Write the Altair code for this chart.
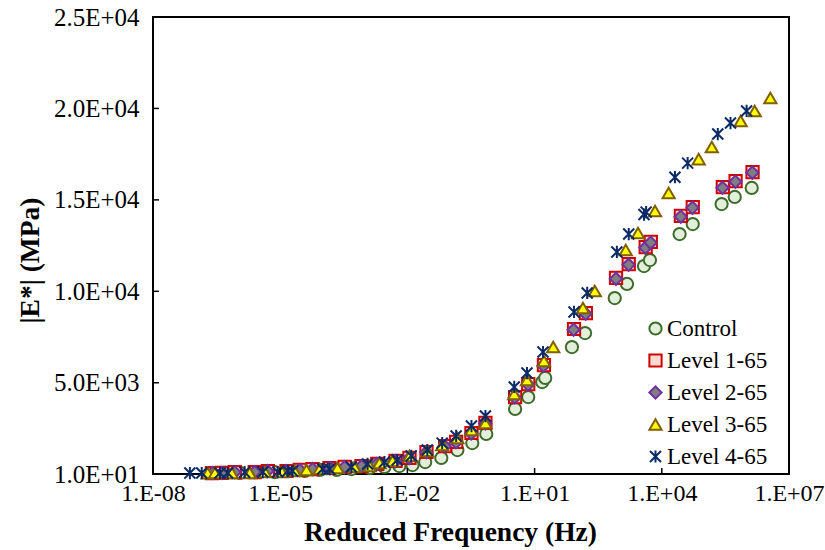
import math
import altair as alt
import pandas as pd

series_names = ["Control", "Level 1-65", "Level 2-65", "Level 3-65", "Level 4-65"]

control_freq = [4.9e-7, 1.12e-6, 2.95e-6, 7.41e-6, 1.66e-5, 3.8e-5, 8.51e-5, 2.14e-4, 4.79e-4, 1.29e-3,
                2.88e-3, 6.46e-3, 1.32e-2, 2.63e-2, 6.31e-2, 0.151, 0.339, 0.724, 3.47, 7.08,
                15.1, 17.8, 75.9, 155, 776, 1510, 3800, 5250, 2.63e4, 5.37e4,
                2.57e5, 5.25e5, 1.32e6]
control_mod = [65, 65, 119, 119, 174, 174, 229, 229, 283, 338,
               393, 447, 500, 666, 885, 1320, 1705, 2200, 3565, 4220,
               5040, 5260, 6950, 7720, 9630, 10400, 11380, 11710, 13130, 13680,
               14770, 15160, 15650]

level1_freq = [2.45e-7, 4.17e-7, 8.51e-7, 2.51e-6, 5.13e-6, 1.41e-5, 2.88e-5, 5.75e-5, 1.45e-4, 3.31e-4,
               8.32e-4, 1.95e-3, 5.25e-3, 1.12e-2, 2.82e-2, 7.76e-2, 0.141, 0.324, 0.692, 3.47,
               7.08, 16.6, 85.1, 162, 832, 1660, 4170, 5500, 2.82e4, 5.37e4,
               2.75e5, 5.5e5, 1.38e6]
level1_mod = [62, 65, 110, 119, 174, 174, 229, 283, 338, 393,
              447, 557, 721, 885, 1213, 1541, 1760, 2252, 2799, 4220,
              4931, 5970, 7939, 8813, 10730, 11490, 12420, 12700, 14120, 14610,
              15700, 16030, 16520]

level2_freq = [2.5e-7, 4.2e-7, 8.4e-7, 2.5e-6, 5.0e-6, 1.4e-5, 2.9e-5, 5.8e-5, 1.5e-4, 3.3e-4,
               8.3e-4, 1.9e-3, 5.2e-3, 1.1e-2, 2.8e-2, 7.6e-2, 0.14, 0.32, 0.69, 3.4,
               7.0, 16.2, 83, 160, 830, 1650, 4100, 5450, 2.8e4, 5.3e4,
               2.7e5, 5.45e5, 1.37e6]
level2_mod = [60, 64, 105, 115, 170, 172, 225, 278, 332, 388,
              440, 550, 712, 875, 1200, 1525, 1745, 2230, 2775, 4190,
              4900, 5930, 7900, 8770, 10680, 11450, 12380, 12660, 14080, 14570,
              15660, 15990, 16490]

level3_freq = [1.95e-7, 2.88e-7, 7.24e-7, 1.91e-6, 4.37e-6, 1.10e-5, 2.19e-5, 4.17e-5, 8.51e-5, 2.24e-4,
               5.62e-4, 1.29e-3, 2.19e-3, 4.47e-3, 1.12e-2, 2.95e-2, 6.61e-2, 0.151, 0.324, 0.692,
               3.31, 6.61, 16.6, 27.5, 138, 263, 1410, 2750, 6920, 1.45e4,
               7.41e4, 1.51e5, 7.24e5, 1.55e6, 3.63e6]
level3_mod = [60, 62, 65, 65, 119, 119, 174, 229, 283, 338,
              393, 447, 611, 721, 994, 1268, 1596, 1978, 2416, 2799,
              4384, 5150, 6189, 6954, 9087, 10016, 12260, 13190, 14390, 15375,
              17230, 17890, 19310, 19860, 20570]

level4_freq = [7.41e-8, 1.41e-7, 3.80e-7, 5.75e-7, 1.45e-6, 3.89e-6, 8.71e-6, 1.51e-5, 1.95e-5, 1.0e-4,
               1.45e-4, 4.79e-4, 1.15e-3, 2.88e-3, 5.75e-3, 1.23e-2, 2.95e-2, 6.61e-2, 0.141, 0.324,
               0.692, 3.31, 6.61, 15.8, 85.1, 174, 871, 1660, 3800, 4270,
               2.04e4, 4.07e4, 2.09e5, 4.17e5, 1.0e6]
level4_mod = [60, 62, 65, 65, 110, 119, 119, 174, 174, 283,
              283, 393, 557, 666, 775, 1000, 1320, 1700, 2090, 2630,
              3180, 4770, 5530, 6680, 8870, 9910, 12150, 13130, 14200, 14330,
              16240, 17010, 18600, 19200, 19860]

x_tick_values = [1e-8, 1e-5, 1e-2, 1e1, 1e4, 1e7]
x_tick_labels = ["1.E-08", "1.E-05", "1.E-02", "1.E+01", "1.E+04", "1.E+07"]
y_tick_values = [10, 5000, 10000, 15000, 20000, 25000]
y_tick_labels = ["1.0E+01", "5.0E+03", "1.0E+04", "1.5E+04", "2.0E+04", "2.5E+04"]

shapes = ["circle", "square", "diamond", "triangle-up",
          "M-0.9,-0.9L0.9,0.9M-0.9,0.9L0.9,-0.9M0,-1L0,1"]
fills = ["#E2EFDA", "#FADBD2", "#7F7F7F", "#FFFF00", "transparent"]
strokes = ["#3E6B2C", "#D00000", "#7030A0", "#806000", "#0B2A66"]
sizes = [150, 150, 85, 150, 190]

rows = []
all_f = [control_freq, level1_freq, level2_freq, level3_freq, level4_freq]
all_e = [control_mod, level1_mod, level2_mod, level3_mod, level4_mod]
k = 0
for name, fs, es in zip(series_names, all_f, all_e):
    for f, e in zip(fs, es):
        rows.append({"series": name, "freq": f, "modulus": e, "ord": k})
        k += 1
df = pd.DataFrame(rows)

W, H = 636, 457
SERIF = "Times New Roman, Liberation Serif, DejaVu Serif, serif"

x_expr = " : ".join(
    f"round(log(datum.value)/LN10) == {round(math.log10(v))} ? '{lab}'"
    for v, lab in zip(x_tick_values, x_tick_labels)) + " : ''"
y_expr = " : ".join(
    f"abs(datum.value - {v}) < 1 ? '{lab}'"
    for v, lab in zip(y_tick_values, y_tick_labels)) + " : ''"

xscale = alt.Scale(type="log", domain=[1e-8, 1e7], nice=False)
yscale = alt.Scale(domain=[10, 25000], nice=False, zero=False)
x_axis = alt.Axis(values=x_tick_values, labelExpr=x_expr, title="Reduced Frequency (Hz)",
                  titleX=297, titleY=58, titleBaseline="middle", titleAnchor="middle",
                  labelFont=SERIF, titleFont=SERIF, labelFontSize=24)
y_axis = alt.Axis(values=y_tick_values, labelExpr=y_expr, title="|E*| (MPa)",
                  titleX=-123, titleY=243, titleBaseline="middle", titleAnchor="middle",
                  labelFont=SERIF, titleFont=SERIF, labelFontSize=25)

leg = alt.Legend(title=None, orient="none", legendX=491, legendY=300, labelFont=SERIF)

points = alt.Chart(df).mark_point(filled=True, opacity=1, strokeWidth=2).encode(
    x=alt.X("freq:Q", scale=xscale, axis=x_axis),
    y=alt.Y("modulus:Q", scale=yscale, axis=y_axis),
    shape=alt.Shape("series:N", scale=alt.Scale(domain=series_names, range=shapes), legend=leg),
    fill=alt.Fill("series:N", scale=alt.Scale(domain=series_names, range=fills), legend=leg),
    stroke=alt.Stroke("series:N", scale=alt.Scale(domain=series_names, range=strokes), legend=leg),
    size=alt.Size("series:N", scale=alt.Scale(domain=series_names, range=sizes), legend=leg),
    order=alt.Order("ord:Q"),
)

ytick_df = pd.DataFrame({"v": y_tick_values})
xtick_df = pd.DataFrame({"v": x_tick_values})

yticks = alt.Chart(ytick_df).mark_rule(color="black", strokeWidth=1.5).encode(
    y=alt.Y("v:Q", scale=yscale, axis=y_axis),
    x=alt.value(0), x2=alt.value(6),
)
xticks = alt.Chart(xtick_df).mark_rule(color="black", strokeWidth=1.5).encode(
    x=alt.X("v:Q", scale=xscale, axis=x_axis),
    y=alt.value(H - 6), y2=alt.value(H),
)

chart = alt.layer(points, yticks, xticks).properties(
    width=W, height=H,
    autosize=alt.AutoSizeParams(type="none"),
    padding={"left": 153, "top": 17, "right": 825 - 153 - W, "bottom": 550 - 17 - H},
).configure(
    font=SERIF
).configure_view(
    stroke="black", strokeWidth=2
).configure_axis(
    domain=False, ticks=False, grid=False,
    labelColor="black",
    titleFontSize=27.5, titleFontWeight="bold", titleColor="black",
    labelOverlap=False, labelFlush=False,
).configure_axisX(
    labelPadding=7,
).configure_axisY(
    labelPadding=14,
).configure_legend(
    labelFont=SERIF, labelFontSize=23, labelColor="black",
    symbolStrokeWidth=2, rowPadding=8, padding=0, labelOffset=0,
)

chart.save("out.html", embed_options={"renderer": "svg", "actions": False})
